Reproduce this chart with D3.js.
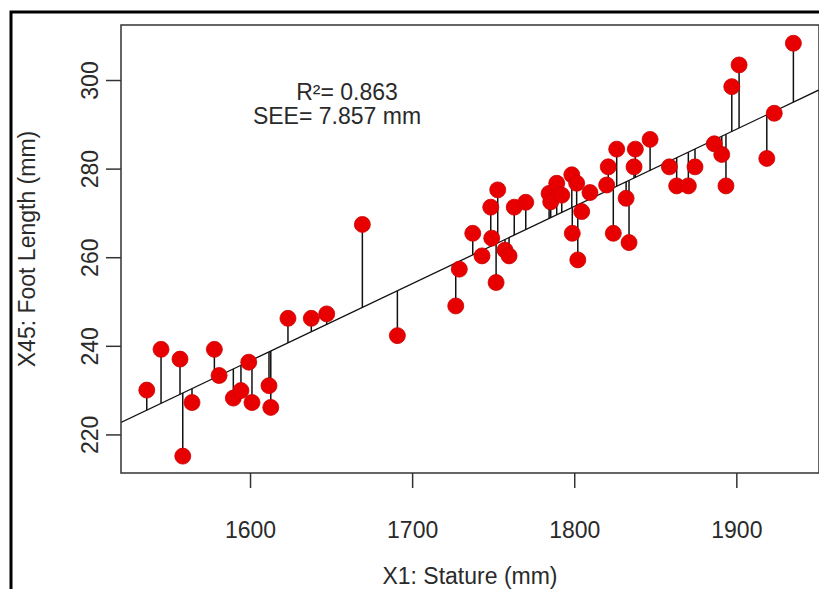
<!DOCTYPE html>
<html>
<head>
<meta charset="utf-8">
<script src="https://cdn.jsdelivr.net/npm/d3@7"></script>
<style>
  html, body { margin: 0; padding: 0; background: #fff; }
  svg { display: block; }
  text { font-family: "Liberation Sans", Arial, sans-serif; fill: #2a2a2a; }
</style>
</head>
<body>
<svg id="chart" width="819" height="589"></svg>
<script>
// Stature (mm), X1
const stature = [
  1536.3, 1545.1, 1556.8, 1558.5, 1564.2, 1578.0, 1580.9, 1589.7, 1594.4, 1599.2,
  1601.2, 1611.7, 1612.8, 1623.4, 1637.8, 1647.3, 1669.3, 1690.9, 1726.9, 1729.1,
  1737.4, 1743.1, 1748.5, 1749.1, 1752.8, 1751.8, 1757.3, 1759.8, 1763.0, 1770.1,
  1784.5, 1785.5, 1789.2, 1792.3, 1798.5, 1801.5, 1804.6, 1798.8, 1802.2, 1809.7,
  1820.0, 1821.0, 1826.2, 1824.1, 1832.0, 1833.8, 1836.9, 1837.7, 1846.8, 1858.7,
  1863.2, 1870.4, 1874.5, 1886.4, 1891.0, 1893.6, 1897.2, 1901.7, 1918.8, 1923.4,
  1935.2
];
// Foot length (mm), X45
const footLength = [
  230.0, 239.2, 237.0, 215.1, 227.2, 239.2, 233.3, 228.2, 229.9, 236.3,
  227.2, 231.0, 226.1, 246.2, 246.2, 247.2, 267.4, 242.3, 249.0, 257.3,
  265.4, 260.3, 271.3, 264.3, 275.2, 254.3, 261.6, 260.3, 271.3, 272.4,
  274.4, 272.5, 276.7, 274.0, 278.6, 276.7, 270.3, 265.4, 259.4, 274.6,
  276.3, 280.4, 284.4, 265.4, 273.3, 263.3, 280.4, 284.4, 286.6, 280.4,
  276.1, 276.1, 280.4, 285.6, 283.2, 276.1, 298.5, 303.4, 282.3, 292.5,
  308.3
];
// Regression line: foot = intercept + slope * stature
const fitIntercept = -42.3;
const fitSlope = 0.1743;

const xTicks = [1600, 1700, 1800, 1900];
const yTicks = [220, 240, 260, 280, 300];
const xTitle = "X1: Stature (mm)";
const yTitle = "X45: Foot Length (mm)";
const statLines = ["R\u00B2= 0.863", "SEE= 7.857 mm"];

const svg = d3.select("#chart");
const plot = { left: 121, top: 25, right: 819, bottom: 473 };

const x = d3.scaleLinear().domain([1520.4, 1951]).range([plot.left, plot.right]);
const y = d3.scaleLinear().domain([211.29, 312.42]).range([plot.bottom, plot.top]);

// outer frame
svg.append("rect")
  .attr("x", 11).attr("y", 12).attr("width", 900).attr("height", 700)
  .attr("fill", "none").attr("stroke", "#000").attr("stroke-width", 3);

svg.append("clipPath").attr("id", "plotclip")
  .append("rect")
  .attr("x", plot.left).attr("y", plot.top)
  .attr("width", plot.right - plot.left).attr("height", plot.bottom - plot.top);

const data = stature.map((s, i) => ({ s, f: footLength[i], fit: fitIntercept + fitSlope * s }));

const g = svg.append("g").attr("clip-path", "url(#plotclip)");

// residual segments
g.selectAll("line.res").data(data).enter().append("line")
  .attr("class", "res")
  .attr("x1", d => x(d.s)).attr("x2", d => x(d.s))
  .attr("y1", d => y(d.f)).attr("y2", d => y(d.fit))
  .attr("stroke", "#111").attr("stroke-width", 1.5);

// regression line
const [d0, d1] = x.domain();
g.append("line")
  .attr("x1", x(d0)).attr("y1", y(fitIntercept + fitSlope * d0))
  .attr("x2", x(d1)).attr("y2", y(fitIntercept + fitSlope * d1))
  .attr("stroke", "#111").attr("stroke-width", 1.3);

// points
g.selectAll("circle").data(data).enter().append("circle")
  .attr("cx", d => x(d.s)).attr("cy", d => y(d.f))
  .attr("r", 8)
  .attr("fill", "#e80000").attr("stroke", "#cc0000").attr("stroke-width", 0.8);

// plot box
svg.append("rect")
  .attr("x", plot.left).attr("y", plot.top)
  .attr("width", plot.right - plot.left).attr("height", plot.bottom - plot.top)
  .attr("fill", "none").attr("stroke", "#333").attr("stroke-width", 1.5);

// x axis
const xAxis = svg.append("g").attr("transform", `translate(0,${plot.bottom})`)
  .call(d3.axisBottom(x).tickValues(xTicks).tickSize(15).tickFormat(d3.format("d")));
xAxis.select(".domain").remove();
xAxis.selectAll(".tick line").attr("stroke", "#333").attr("stroke-width", 1.5);
xAxis.selectAll(".tick text")
  .attr("y", 65).attr("dy", 0)
  .style("font-size", "23px").style("font-family", "Liberation Sans, Arial, sans-serif")
  .attr("fill", "#2a2a2a");

// y axis
const yAxis = svg.append("g").attr("transform", `translate(${plot.left},0)`)
  .call(d3.axisLeft(y).tickValues(yTicks).tickSize(15).tickFormat(d3.format("d")));
yAxis.select(".domain").remove();
yAxis.selectAll(".tick line").attr("stroke", "#333").attr("stroke-width", 1.5);
yAxis.selectAll(".tick text")
  .attr("x", 0).attr("dy", 0).attr("y", 0)
  .attr("text-anchor", "middle")
  .attr("transform", "translate(-23,0) rotate(-90)")
  .style("font-size", "23px").style("font-family", "Liberation Sans, Arial, sans-serif")
  .attr("fill", "#2a2a2a");

// axis titles
svg.append("text")
  .attr("x", (plot.left + plot.right) / 2).attr("y", 584)
  .attr("text-anchor", "middle").style("font-size", "23px")
  .text(xTitle);

svg.append("text")
  .attr("transform", `translate(35,${(plot.top + plot.bottom) / 2}) rotate(-90)`)
  .attr("text-anchor", "middle").style("font-size", "23px")
  .text(yTitle);

// annotation
svg.append("text").attr("x", 347).attr("y", 100)
  .attr("text-anchor", "middle").style("font-size", "23px").text(statLines[0]);
svg.append("text").attr("x", 337).attr("y", 124)
  .attr("text-anchor", "middle").style("font-size", "23px").text(statLines[1]);
</script>
</body>
</html>
